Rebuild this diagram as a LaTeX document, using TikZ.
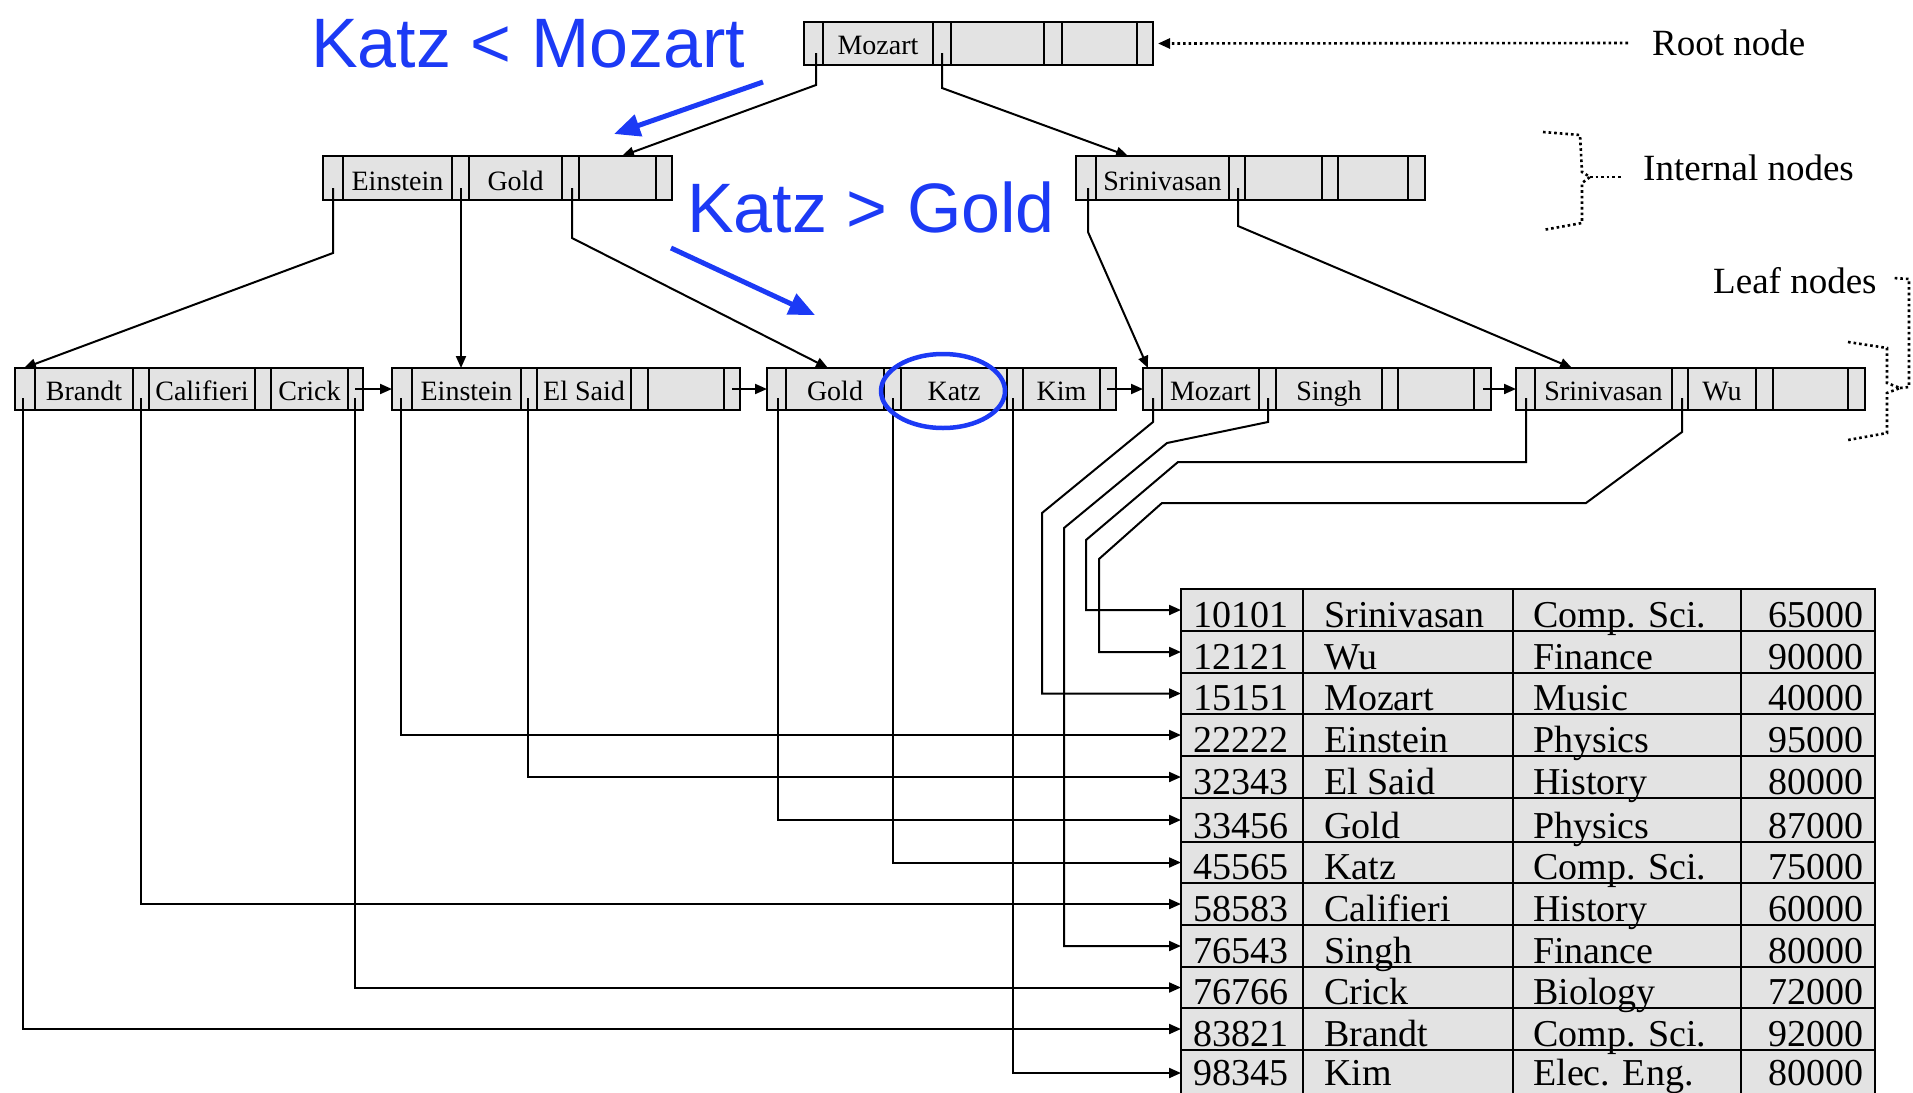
\documentclass[tikz,border=0pt]{standalone}
\usepackage{fontspec}
\setmainfont{Liberation Serif}
\newfontfamily\tablefont{Liberation Serif}
\newfontfamily\bluefnt{Liberation Sans}
\usetikzlibrary{arrows.meta,shapes.geometric}
\definecolor{nodefill}{RGB}{227,227,227}
\definecolor{kblue}{RGB}{28,58,245}
\tikzset{
  bpbox/.style={draw, fill=nodefill, line width=2.6pt, inner sep=0pt, outer sep=0pt, anchor=north west},
  keytxt/.style={anchor=base, inner sep=0pt, font=\fontsize{28}{30}\selectfont},
  divider/.style={line width=2.4pt},
  conn/.style={line width=2pt, -{Triangle[length=12pt,width=10pt]}},
  rowbox/.style={draw, fill=nodefill, line width=2.6pt, inner sep=0pt, outer sep=0pt, anchor=north west},
  tabtxt/.style={anchor=base west, inner sep=0pt, font=\tablefont\fontsize{38}{40}\selectfont},
  tabnum/.style={anchor=base east, inner sep=0pt, font=\tablefont\fontsize{38}{40}\selectfont},
  lbl/.style={anchor=base west, inner sep=0pt, font=\fontsize{37}{40}\selectfont},
  dotline/.style={line width=2.6pt, dash pattern=on 2.6pt off 3pt},
  bluetxt/.style={anchor=base west, inner sep=0pt, text=kblue, font=\bluefnt\fontsize{70}{72}\selectfont},
  bluearrow/.style={draw=kblue, line width=5pt, -{Triangle[length=26pt,width=22pt]}},
}
\newcommand{\bpnode}[6]{%
  \node[bpbox, minimum width={#4-#2}, minimum height={#5-#3}] (#1) at (#2,#3) {};
  \foreach \dv in {#6} \draw[divider] (\dv,#3) -- (\dv,#5);
}
\begin{document}
\begin{tikzpicture}[x=1pt,y=-1pt]
\useasboundingbox (0,0) rectangle (1913,1092);
\clip (0,0) rectangle (1913,1092);

% ---------- root ----------
\bpnode{root}{804}{22}{1153}{65}{823,933,951,1044,1062,1137}
\node[keytxt] (rootk1) at (878,54) {Mozart};

% ---------- internal ----------
\bpnode{il}{323}{156}{672}{200}{343,452,469,562,579,656}
\node[keytxt] (ilk1) at (397.5,190) {Einstein};
\node[keytxt] (ilk2) at (515.5,190) {Gold};
\bpnode{ir}{1076}{156}{1425}{200}{1096,1229,1245,1322,1338,1408}
\node[keytxt] (irk1) at (1162.5,190) {Srinivasan};

% ---------- leaves ----------
\bpnode{la}{15}{368}{363}{410}{35,133,149,255,271,348}
\node[keytxt] (lak1) at (84,400) {Brandt};
\node[keytxt] (lak2) at (202,400) {Califieri};
\node[keytxt] (lak3) at (309.5,400) {Crick};
\bpnode{lb}{392}{368}{740}{410}{412,521,537,631,648,724}
\node[keytxt] (lbk1) at (466.5,400) {Einstein};
\node[keytxt] (lbk2) at (584,400) {El Said};
\bpnode{lc}{767}{368}{1116}{410}{786,884,901,1007,1023,1100}
\node[keytxt] (lck1) at (835,400) {Gold};
\node[keytxt] (lck2) at (954,400) {Katz};
\node[keytxt] (lck3) at (1061.5,400) {Kim};
\bpnode{ld}{1143}{368}{1491}{410}{1162,1259,1276,1382,1398,1474}
\node[keytxt] (ldk1) at (1210.5,400) {Mozart};
\node[keytxt] (ldk2) at (1329,400) {Singh};
\bpnode{le}{1516}{368}{1865}{410}{1535,1672,1688,1756,1773,1848}
\node[keytxt] (lek1) at (1603.5,400) {Srinivasan};
\node[keytxt] (lek2) at (1722,400) {Wu};

% ---------- pointer origins ----------
\coordinate (rp0) at (816,53);  \coordinate (rp1) at (942,53);
\coordinate (ilp0) at (333,188); \coordinate (ilp1) at (461,188); \coordinate (ilp2) at (572,188);
\coordinate (irp0) at (1088,188); \coordinate (irp1) at (1238,188);
\coordinate (lap0) at (23,398); \coordinate (lap1) at (141,398); \coordinate (lap2) at (355,398);
\coordinate (lbp0) at (401,398); \coordinate (lbp1) at (528,398); \coordinate (lbnx) at (732,389);
\coordinate (lcp0) at (778,398); \coordinate (lcp1) at (893,398); \coordinate (lcp2) at (1013,398); \coordinate (lcnx) at (1107,389);
\coordinate (ldp0) at (1153,398); \coordinate (ldp1) at (1268,398); \coordinate (ldnx) at (1483,389);
\coordinate (lep0) at (1526,398); \coordinate (lep1) at (1682,398);
\coordinate (lanx) at (355,389);

% ---------- tree connectors ----------
\draw[conn] (rp0) -- (816,85) -- ([xshift=-50pt]il.north east);
\draw[conn] (rp1) -- (942,88) -- ([xshift=52pt]ir.north west);
\draw[conn] (ilp0) -- (333,253) -- ([xshift=9pt]la.north west);
\draw[conn] (ilp1) -- ([xshift=69pt]lb.north west);
\draw[conn] (ilp2) -- (572,238) -- ([xshift=61pt]lc.north west);
\draw[conn] (irp0) -- (1088,232) -- ([xshift=5pt]ld.north west);
\draw[conn] (irp1) -- (1238,226) -- ([xshift=56pt]le.north west);

% next-leaf pointers
\draw[conn] (lanx) -- (lb.west);
\draw[conn] (lbnx) -- (lc.west);
\draw[conn] (lcnx) -- (ld.west);
\draw[conn] (ldnx) -- (le.west);

% ---------- table ----------
\foreach \ri/\rt/\rb in {1/589/631, 2/631/673, 3/673/714, 4/714/756, 5/756/798, 6/798/842,
  7/842/883, 8/883/925, 9/925/967, 10/967/1008, 11/1008/1050, 12/1050/1096}{
  \node[rowbox, minimum width=694, minimum height={\rb-\rt}] (row\ri) at (1181,\rt) {};
}
\foreach \cx in {1303,1513,1741} \draw[divider] (\cx,589) -- (\cx,1096);
\foreach \ri/\rb/\rid/\rnm/\rdept/\rsal in {
  1/631/10101/Srinivasan/Comp. Sci./65000,
  2/673/12121/Wu/Finance/90000,
  3/714/15151/Mozart/Music/40000,
  4/756/22222/Einstein/Physics/95000,
  5/798/32343/El Said/History/80000,
  6/842/33456/Gold/Physics/87000,
  7/883/45565/Katz/Comp. Sci./75000,
  8/925/58583/Califieri/History/60000,
  9/967/76543/Singh/Finance/80000,
  10/1008/76766/Crick/Biology/72000,
  11/1050/83821/Brandt/Comp. Sci./92000,
  12/1089/98345/Kim/Elec. Eng./80000}{
  \node[tabtxt] (id\ri) at (1193,\rb-4) {\rid};
  \node[tabtxt] (nm\ri) at (1324,\rb-4) {\rnm};
  \node[tabtxt] (dp\ri) at (1533,\rb-4) {\rdept};
  \node[tabnum] (sal\ri) at (1864,\rb-4) {\rsal};
}

% ---------- record pointers ----------
\draw[conn] (lap0) |- (row11.west);
\draw[conn] (lap1) |- (row8.west);
\draw[conn] (lap2) |- (row10.west);
\draw[conn] (lbp0) |- (row4.west);
\draw[conn] (lbp1) |- (row5.west);
\draw[conn] (lcp0) |- (row6.west);
\draw[conn] (lcp1) |- (row7.west);
\draw[conn] (lcp2) |- (row12.west);
\draw[conn] (ldp0) -- (1153,422) -- (1042,513) |- (row3.west);
\draw[conn] (ldp1) -- (1268,422) -- (1167,443) -- (1064,528) |- (row9.west);
\draw[conn] (lep0) -- (1526,462) -- (1178,462) -- (1086,540) |- (row1.west);
\draw[conn] (lep1) -- (1682,432) -- (1586,503) -- (1162,503) -- (1099,559) |- (row2.west);

% ---------- labels and braces ----------
\node[lbl] (rootlbl) at (1652,55) {Root node};
\node[lbl] (intlbl) at (1643,180) {Internal nodes};
\node[lbl] (leaflbl) at (1713,293) {Leaf nodes};
\coordinate (rootdot) at (1628,43);
\draw[dotline, -{Triangle[length=12pt,width=10pt]}] (rootdot) -- ([xshift=5pt]root.east);
\draw[dotline] (1543,132) -- (1580,135) -- (1582,172) -- (1590,177) -- (1582,183) -- (1582,223) -- (1543,230);
\draw[dotline] (1590,177) -- (1623,177);
\draw[dotline] (1848,342) -- (1887,348) -- (1887,383) -- (1900,388) -- (1887,393) -- (1887,433) -- (1848,440);
\draw[dotline] (1900,388) -- (1909,387) -- (1909,279) -- (1893,278);

% ---------- blue annotations ----------
\node[bluetxt] (bt1) at (311,67) {Katz < Mozart};
\node[bluetxt] (bt2) at (687,232) {Katz > Gold};
\coordinate (ba1s) at (763,82); \coordinate (ba1e) at (614,134);
\coordinate (ba2s) at (671,248); \coordinate (ba2e) at (815,315);
\draw[bluearrow] (ba1s) -- (ba1e);
\draw[bluearrow] (ba2s) -- (ba2e);
\node[draw=kblue, line width=4.5pt, ellipse, minimum width=124, minimum height=74, inner sep=0pt] (katzcirc) at (943,391) {};
\end{tikzpicture}
\end{document}
